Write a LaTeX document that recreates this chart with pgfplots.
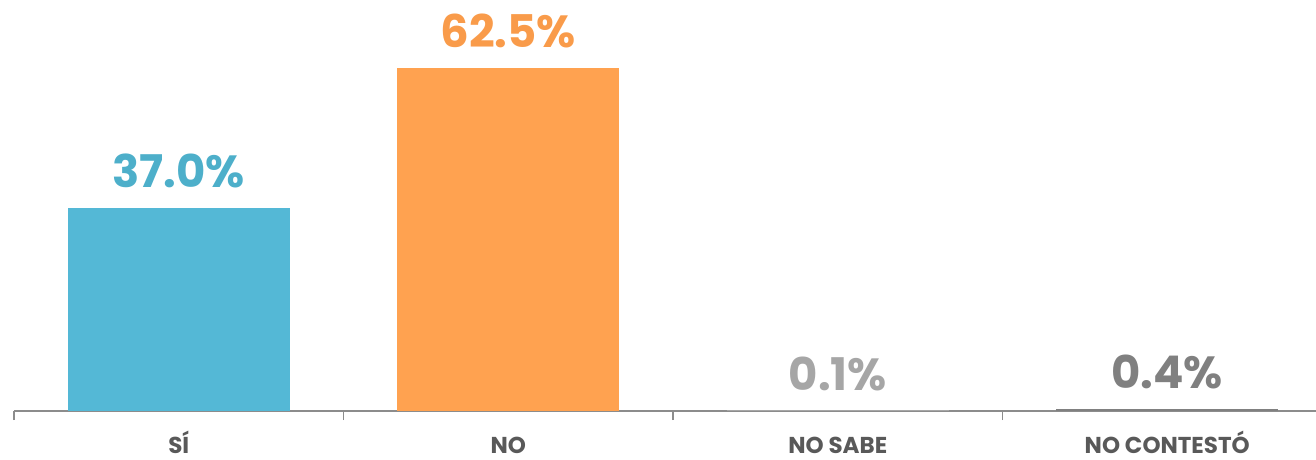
\documentclass[border=0pt]{standalone}
\usepackage{pgfplots}
\pgfplotsset{compat=1.18}
\usepackage{fontspec}
\setmainfont{Poppins}
\definecolor{cblue}{HTML}{54B8D6}
\definecolor{cblueT}{HTML}{4DAFCA}
\definecolor{corange}{HTML}{FFA250}
\definecolor{corangeT}{HTML}{F99B4A}
\definecolor{clgray}{HTML}{A6A6A6}
\definecolor{cdgray}{HTML}{808080}
\definecolor{caxis}{HTML}{8C8C8C}
\definecolor{clabel}{HTML}{595959}
\begin{document}
\begin{tikzpicture}
\begin{axis}[
  at={(7pt,24.5pt)}, anchor=south west,
  scale only axis,
  width=650.75pt, height=192.15pt,
  xmin=-0.5, xmax=3.45, ymin=0, ymax=70,
  axis x line*=bottom, axis y line=none,
  axis line style={caxis, line width=1pt, -},
  ybar, bar width=111pt, bar shift=0pt,
  xtick={0,1,2,3},
  xticklabels={SÍ,NO,NO SABE,NO CONTESTÓ},
  major tick length=0pt,
  extra x ticks={-0.5,0.5,1.5,2.5},
  extra x tick labels={},
  extra x tick style={tick align=outside, major tick length=4.5pt, major tick style={draw=caxis, line width=0.9pt}},
  xticklabel style={font=\fontsize{11.5}{12}\selectfont\bfseries, text=clabel, anchor=base, inner sep=0pt, text depth=0pt, yshift=-21pt},
  nodes near coords={\pgfmathprintnumber[fixed,fixed zerofill,precision=1,assume math mode=true]{\pgfplotspointmeta}\%},
  every node near coord/.append style={font=\fontsize{22.5}{24}\selectfont\bfseries, anchor=base, yshift=10pt},
  clip=false,
]
\addplot[fill=cblue, draw=none, nodes near coords style={text=cblueT}] coordinates {(0,37.0)};
\addplot[fill=corange, draw=none, nodes near coords style={text=corangeT}] coordinates {(1,62.5)};
\addplot[fill=clgray, draw=none, nodes near coords style={text=clgray}] coordinates {(2,0.1)};
\addplot[fill=cdgray, draw=none, nodes near coords style={text=cdgray}] coordinates {(3,0.4)};
\end{axis}
\pgfresetboundingbox
\useasboundingbox (0,0) rectangle (658pt,230pt);
\end{tikzpicture}
\end{document}
